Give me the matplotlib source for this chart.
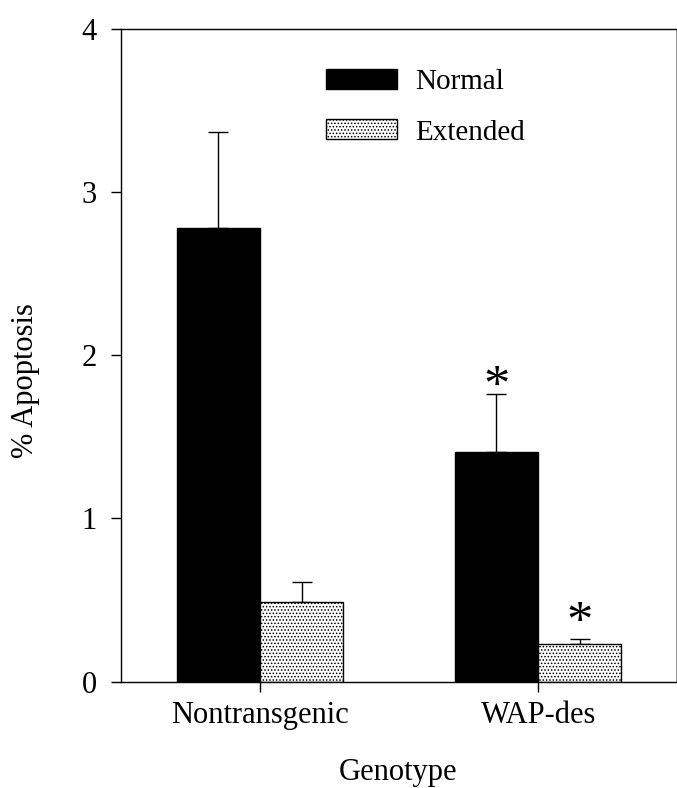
import matplotlib
matplotlib.use("Agg")
import matplotlib.pyplot as plt
import numpy as np

plt.rcParams['font.family'] = ['Liberation Serif', 'DejaVu Serif']
plt.rcParams['hatch.linewidth'] = 0.7

genotypes = ["Nontransgenic", "WAP-des"]
series = ["Normal", "Extended"]
normal_vals = [2.78, 1.41]
normal_err = [0.59, 0.35]
extended_vals = [0.49, 0.23]
extended_err = [0.12, 0.03]
yticks = [0, 1, 2, 3, 4]
# asterisk (significance) marker heights; None = no marker
star_normal = [None, 1.80]
star_extended = [None, 0.355]

fig = plt.figure(figsize=(6.77, 7.88), dpi=100)
ax = fig.add_axes([0.1783, 0.1349, 0.8202, 0.8287])

x = np.arange(len(genotypes))
w = 0.3
ax.bar(x - w/2, normal_vals, w, color='black', edgecolor='black', linewidth=1.0,
       label=series[0], zorder=2)
ax.bar(x + w/2, extended_vals, w, color='white', edgecolor='black', linewidth=1.0,
       hatch='.....', label=series[1], zorder=2)
ax.errorbar(x - w/2, normal_vals, yerr=[np.zeros(2), normal_err], fmt='none',
            ecolor='black', elinewidth=1.0, capsize=7.2, capthick=1.0, zorder=1)
ax.errorbar(x + w/2, extended_vals, yerr=[np.zeros(2), extended_err], fmt='none',
            ecolor='black', elinewidth=1.0, capsize=7.2, capthick=1.0, zorder=1)

for i in range(len(genotypes)):
    if star_normal[i] is not None:
        ax.text(x[i] - w/2, star_normal[i], '*', ha='center', va='center', fontsize=38)
    if star_extended[i] is not None:
        ax.text(x[i] + w/2, star_extended[i], '*', ha='center', va='center', fontsize=38)

ax.set_xlim(-0.501, 1.496)
ax.set_ylim(0, 4)
ax.set_yticks(yticks)
ax.set_yticklabels([str(t) for t in yticks])
ax.set_xticks(x)
ax.set_xticklabels(genotypes)
ax.tick_params(axis='y', direction='out', length=7, width=1.0, pad=10, labelsize=22)
ax.tick_params(axis='x', direction='out', length=7, width=1.0, pad=7, labelsize=22)

for s in ['left', 'bottom', 'top']:
    ax.spines[s].set_linewidth(1.0)
ax.spines['right'].set_linewidth(0.6)
ax.spines['right'].set_color('#888888')

ax.set_ylabel('% Apoptosis', fontsize=22)
ax.yaxis.label.set_va('center')
ax.yaxis.set_label_coords(-0.171, 0.461)
ax.set_xlabel('Genotype', fontsize=22)
ax.xaxis.label.set_va('top')
ax.xaxis.set_label_coords(0.5, -0.117)

ax.legend(loc='upper left', bbox_to_anchor=(0.37, 0.939), frameon=False,
          fontsize=21, handlelength=2.42, handleheight=0.685, handletextpad=0.63,
          labelspacing=0.84, borderpad=0, borderaxespad=0)

fig.savefig('out.png', dpi=100)
